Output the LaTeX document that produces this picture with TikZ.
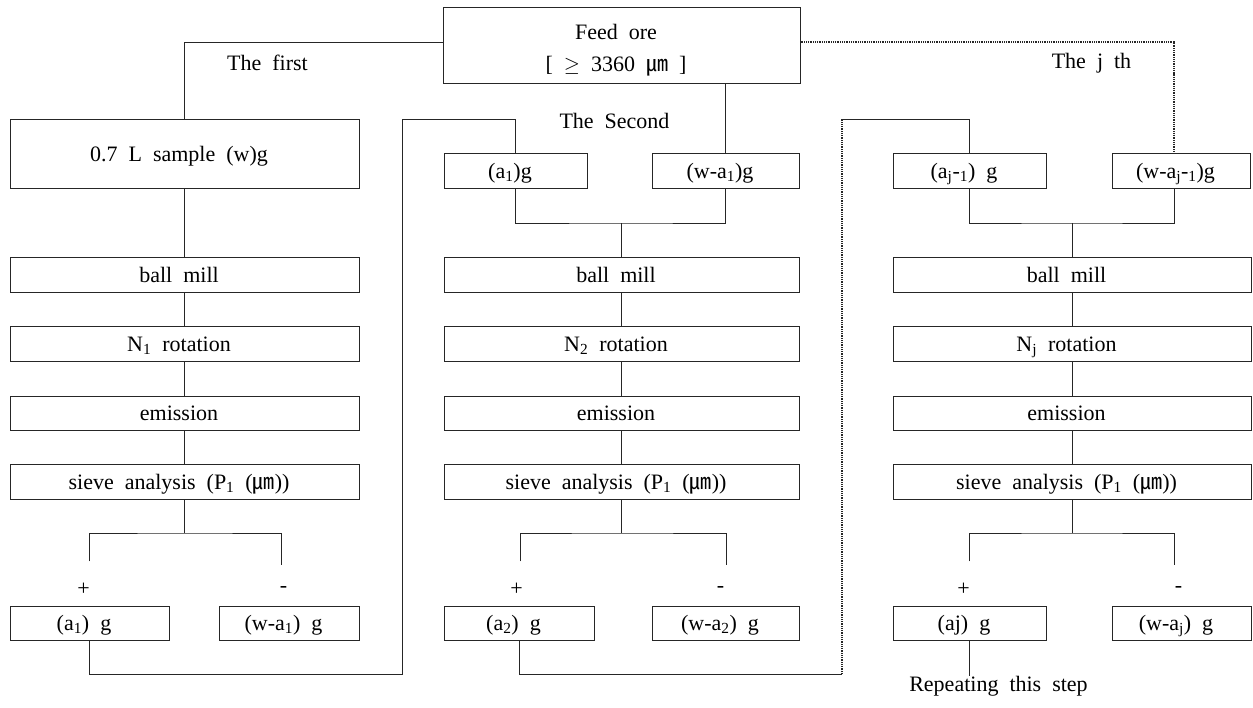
\documentclass[tikz,border=0pt]{standalone}
\usepackage{fontspec}
\setmainfont{Liberation Serif}
\newfontfamily\cjk{Noto Sans CJK KR}
\usetikzlibrary{calc}
\newcommand{\umic}{{\cjk ㎛}}
\begin{document}
\begin{tikzpicture}[x=1pt,y=-1pt,line width=1pt,draw=black!85,
  every node/.style={font=\fontsize{22}{32}\selectfont, inner sep=0pt},
  box/.style={draw, rectangle, inner sep=0pt, text height=20pt, text depth=5pt},
  dotl/.style={dash pattern=on 1pt off 0.8pt, line width=1.3pt}]
\spaceskip=11pt plus 2pt minus 1pt\relax
\useasboundingbox (0,0) rectangle (1253,707);

% top
\node[draw, rectangle, minimum width=357, minimum height=76] (feed) at (621.5,45) {\raisebox{-4pt}[\height][\depth]{\begin{tabular}{@{}c@{}}Feed ore\\ {[} $\geq$ 3360 \umic{} {]}\end{tabular}}};
\node (first) at (273,63) {The first};
\node (second) at (620,121) {The Second};
\node (jth) at (1097,63) {The j th};

% column 1
\node[box, minimum width=349, minimum height=69] (s1) at (184.5,153.5) {0.7 L sample (w)g};
\node[box, minimum width=349, minimum height=35] (bm1) at (184.5,274.5) {ball mill};
\node[box, minimum width=349, minimum height=35] (rt1) at (184.5,343.5) {N\textsubscript{1} rotation};
\node[box, minimum width=349, minimum height=34] (em1) at (184.5,413) {emission};
\node[box, minimum width=349, minimum height=35] (sv1) at (184.5,481.5) {sieve analysis (P\textsubscript{1} (\umic))};
\node (p1) at (89,589) {+};
\node (n1) at (289,589) {-};
\node[box, minimum width=159, minimum height=34] (b1p) at (89.5,623) {(a\textsubscript{1}) g};
\node[box, minimum width=140, minimum height=34] (b1m) at (289,623) {(w-a\textsubscript{1}) g};

% column 2
\node[box, minimum width=143, minimum height=35] (a1t) at (515.5,170.5) {(a\textsubscript{1})g};
\node[box, minimum width=147, minimum height=35] (wa1t) at (725.5,170.5) {(w-a\textsubscript{1})g};
\node[box, minimum width=355, minimum height=35] (bm2) at (621.5,274.5) {ball mill};
\node[box, minimum width=355, minimum height=35] (rt2) at (621.5,343.5) {N\textsubscript{2} rotation};
\node[box, minimum width=355, minimum height=34] (em2) at (621.5,413) {emission};
\node[box, minimum width=355, minimum height=35] (sv2) at (621.5,481.5) {sieve analysis (P\textsubscript{1} (\umic))};
\node (p2) at (522,589) {+};
\node (n2) at (726,589) {-};
\node[box, minimum width=150, minimum height=34] (b2p) at (519,623) {(a\textsubscript{2}) g};
\node[box, minimum width=147, minimum height=34] (b2m) at (725.5,623) {(w-a\textsubscript{2}) g};

% column 3
\node[box, minimum width=153, minimum height=35] (ajt) at (969.5,170.5) {(a\textsubscript{j}-\textsubscript{1}) g};
\node[box, minimum width=138, minimum height=35] (wajt) at (1181,170.5) {(w-a\textsubscript{j}-\textsubscript{1})g};
\node[box, minimum width=358, minimum height=35] (bm3) at (1072,274.5) {ball mill};
\node[box, minimum width=358, minimum height=35] (rt3) at (1072,343.5) {N\textsubscript{j} rotation};
\node[box, minimum width=358, minimum height=34] (em3) at (1072,413) {emission};
\node[box, minimum width=358, minimum height=35] (sv3) at (1072,481.5) {sieve analysis (P\textsubscript{1} (\umic))};
\node (p3) at (969,589) {+};
\node (n3) at (1184,589) {-};
\node[box, minimum width=153, minimum height=34] (b3p) at (969.5,623) {(aj) g};
\node[box, minimum width=139, minimum height=34] (b3m) at (1181.5,623) {(w-a\textsubscript{j}) g};
\node (rep) at (1004,686) {Repeating this step};

% coordinates
\coordinate (m2) at (621.5,223);
\coordinate (m3) at (1072,223);
\coordinate (br1) at (184.5,533);
\coordinate (br2) at (621.5,533);
\coordinate (br3) at (1072,533);
\coordinate (l1a) at (402,674);
\coordinate (l1b) at (402,119);
\coordinate (l2a) at (842,674);
\coordinate (l2b) at (842,119);
\coordinate (fl) at ($(feed.west)+(0,-3)$);
\coordinate (fr) at ($(feed.east)+(0,-3)$);
\coordinate (frc) at (1174,42);

% feed connections
\draw (fl) -| (s1.north);
\draw (wa1t.north |- feed.south) -- (wa1t.north);
\draw[dotl] (fr) -- (frc) -- (frc |- wajt.north);

% column 1 chain
\draw (s1.south) -- (bm1.north);
\draw (bm1) -- (rt1);
\draw (rt1) -- (em1);
\draw (em1) -- (sv1);
\draw (sv1.south) -- (br1);
\draw ($(p1.north)+(0,-21)$) |- (br1) -| ($(n1.north)+(-8,-21)$);

% column 2
\draw (a1t.south) |- (m2) -| (wa1t.south);
\draw (m2) -- (bm2.north);
\draw (bm2) -- (rt2);
\draw (rt2) -- (em2);
\draw (em2) -- (sv2);
\draw (sv2.south) -- (br2);
\draw ($(p2.north)+(-2,-21)$) |- (br2) -| ($(n2.north)+(0,-21)$);

% column 3
\draw (ajt.south) |- (m3) -| ($(wajt.south)+(-7,0)$);
\draw (m3) -- (bm3.north);
\draw (bm3) -- (rt3);
\draw (rt3) -- (em3);
\draw (em3) -- (sv3);
\draw (sv3.south) -- (br3);
\draw ($(p3.north)+(0,-21)$) |- (br3) -| ($(n3.north)+(-10,-21)$);

% loops
\draw (b1p.south) |- (l1a) -- (l1b) -| (a1t.north);
\draw (b2p.south) |- (l2a);
\draw[dotl] (l2a) -- (l2b);
\draw (l2b) -| (ajt.north);
\draw (b3p.south) -- (b3p.south |- rep.north);
\end{tikzpicture}
\end{document}
